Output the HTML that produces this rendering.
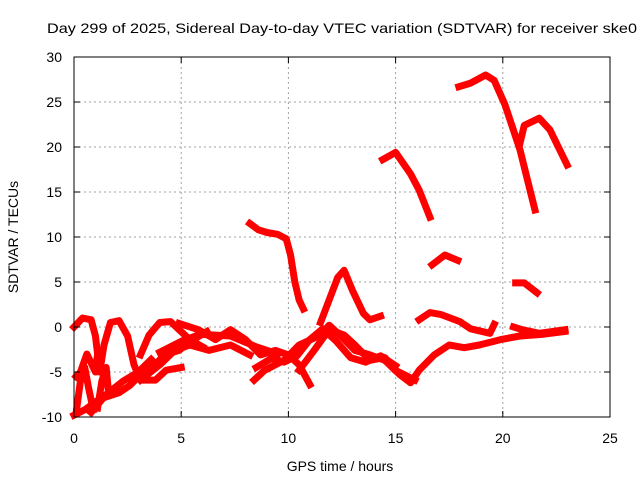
<!DOCTYPE html>
<html><head><meta charset="utf-8"><style>
body{margin:0;background:#fff}
svg{display:block;font-family:"Liberation Sans",Arial,sans-serif}
</style></head><body>
<svg id="chart" width="640" height="480" viewBox="0 0 640 480">
<rect width="640" height="480" fill="#fff"/>
<text x="47" y="33" font-size="14" textLength="590" lengthAdjust="spacingAndGlyphs">Day 299 of 2025, Sidereal Day-to-day VTEC variation (SDTVAR) for receiver ske0</text>
<g id="grid"></g>
<g id="series"></g>
<rect x="74" y="57" width="536" height="360" fill="none" stroke="#000" stroke-width="1"/>
<g id="ticks"></g>
<text x="340" y="471" font-size="14" text-anchor="middle">GPS time / hours</text>
<text transform="translate(18,237) rotate(-90)" font-size="14" text-anchor="middle">SDTVAR / TECUs</text>
</svg>
<script>
const xTicks=[0,5,10,15,20,25];
const yTicks=[-10,-5,0,5,10,15,20,25,30];
const track1=[[8.2,11.5],[8.6,10.8],[9,10.5],[9.5,10.3],[9.9,9.8],[10.1,8],[10.3,5],[10.5,3],[10.7,2]];
const track2=[[11.5,0.5],[11.9,3],[12.3,5.5],[12.6,6.3],[13,4],[13.5,1.5],[13.8,0.8],[14.3,1.2]];
const track3=[[14.4,18.6],[15,19.4],[15.7,17],[16.1,15.2],[16.6,12.2]];
const track4=[[16.7,6.9],[17.3,8],[17.9,7.4]];
const track5=[[17.95,26.7],[18.5,27.1],[19.2,28],[19.6,27.4],[20.1,24.7],[20.8,19.7],[21.5,13]];
const track6=[[20.8,20.4],[21,22.4],[21.7,23.2],[22.2,21.9],[23,18]];
const track7=[[20.6,4.9],[21,4.9],[21.6,3.8]];
const track8=[[16.1,0.8],[16.6,1.6],[17.1,1.4],[18,0.6],[18.5,-0.2],[19.4,-0.7],[19.6,0.3]];
const track9=[[20.5,0],[20.9,-0.3],[21.7,-0.7],[22.9,-0.3]];
const track10=[[0,-9.8],[0.5,-9.2],[1.2,-8],[2.1,-7.3],[2.6,-6.5],[3.3,-4.8],[3.8,-4.2],[4.2,-3.1],[4.9,-2.6],[5.5,-1.5],[6.2,-0.5]];
const track11=[[0,0],[0.4,1],[0.8,0.8],[1,-1],[1.1,-3],[1.0,-5],[0.6,-3],[0.3,-5],[0.1,-5.5]];
const track12=[[1.2,-5],[1.4,-2],[1.7,0.5],[2.1,0.7],[2.5,-1],[2.8,-4.2],[3.1,-5.9],[3.8,-5.9],[4.3,-4.8],[5,-4.5]];
const track13=[[3.1,-3.1],[3.5,-0.9],[4,0.5],[4.5,0.6],[4.9,-0.3],[5.4,-1.4],[6,-2.2]];
const track14=[[4.9,0.4],[5.8,-0.3],[6.6,-1.4],[7.3,-0.3],[8,-1.4],[8.7,-3.1],[9.4,-2.6],[10,-3.1],[10.5,-4.2],[11,-6.4]];
const track15=[[8.4,-5.9],[8.9,-4.8],[9.8,-3.7],[10.5,-2],[11.5,-0.9],[11.9,0.2],[12.4,-0.9],[13.1,-2.6],[13.8,-3.1],[14.5,-3.7],[15.2,-5.3],[15.7,-6.2],[16.1,-4.8],[16.8,-3.1],[17.5,-2],[18.2,-2.3],[18.9,-2],[19.9,-1.4],[20.8,-1],[21.9,-0.8],[22.9,-0.5]];
const track16=[[10.5,-4.8],[11.2,-2.6],[11.9,-0.3],[12.6,-0.9],[13.1,-2],[13.8,-3.7],[14.5,-3.4],[14.97,-4.8],[15.4,-5.3],[15.9,-5.9]];
const track17=[[3.1,-5.9],[4,-4.2],[4.7,-2.6],[5.4,-2],[6.3,-2.6],[7.3,-2],[8.2,-3.1]];
const track18=[[4,-2.8],[5,-1.6],[5.9,-0.8],[7.3,-1],[8.5,-2.2],[9.5,-3]];
const track19=[[0.8,-9.5],[1.5,-7.5],[2.3,-6],[3,-5],[3.6,-3.6]];
const track20=[[8.5,-4.5],[9.2,-3.5],[9.8,-3.9],[10.4,-3.2],[11,-1.4],[11.6,-0.2],[12.2,-1.5],[12.9,-3.4],[13.6,-3.9],[14.3,-3.2],[15,-4.3]];
const track21=[[0.1,-9.5],[0.3,-6],[0.5,-4.5],[0.7,-7],[0.9,-9.2]];
const track22=[[1.1,-9],[1.3,-6],[1.5,-4.5],[1.6,-7]];
const tracks=[track1,track2,track3,track4,track5,track6,track7,track8,track9,track10,track11,track12,track13,track14,track15,track16,track17,track18,track19,track20,track21,track22];
const NS='http://www.w3.org/2000/svg';
const X0=74,X1=610,Y0=417,Y1=57;
function px(h){return X0+(h-0)/(25-0)*(X1-X0);}
function py(v){return Y0-(v-(-10))/(30-(-10))*(Y0-Y1);}
const grid=document.getElementById('grid'),ticks=document.getElementById('ticks'),ser=document.getElementById('series');
xTicks.forEach(t=>{
 const x=px(t);
 if(t>0&&t<25){const l=document.createElementNS(NS,'line');
 
 
 l.setAttribute('x1',x);l.setAttribute('x2',x);l.setAttribute('y1',Y1);l.setAttribute('y2',Y0);
 l.setAttribute('stroke','#a0a0a0');l.setAttribute('stroke-dasharray','2,3');grid.appendChild(l);}
 const tk=document.createElementNS(NS,'path');
 
 
 tk.setAttribute('d',`M${x},${Y0}v-6M${x},${Y1}v6`);tk.setAttribute('stroke','#000');ticks.appendChild(tk);
 const tx=document.createElementNS(NS,'text');
 
 
 tx.setAttribute('x',x);tx.setAttribute('y',443);tx.setAttribute('font-size','14');tx.setAttribute('text-anchor','middle');tx.textContent=t;ticks.appendChild(tx);
});
yTicks.forEach(t=>{
 const y=py(t);
 if(t>-10&&t<30){const l=document.createElementNS(NS,'line');
 
 
 l.setAttribute('x1',X0);l.setAttribute('x2',X1);l.setAttribute('y1',y);l.setAttribute('y2',y);
 l.setAttribute('stroke','#a0a0a0');l.setAttribute('stroke-dasharray','2,3');grid.appendChild(l);}
 const tk=document.createElementNS(NS,'path');
 
 
 tk.setAttribute('d',`M${X0},${y}h6M${X1},${y}h-6`);tk.setAttribute('stroke','#000');ticks.appendChild(tk);
 const tx=document.createElementNS(NS,'text');
 
 
 tx.setAttribute('x',62);tx.setAttribute('y',y+5);tx.setAttribute('font-size','14');tx.setAttribute('text-anchor','end');tx.textContent=t;ticks.appendChild(tx);
});
tracks.forEach((tr,i)=>{
 const p=document.createElementNS(NS,'polyline');
 
 
 p.setAttribute('points',tr.map(d=>px(d[0])+','+py(d[1])).join(' '));
 p.setAttribute('fill','none');p.setAttribute('stroke','#ff0000');p.setAttribute('stroke-width','7');
 p.setAttribute('stroke-linejoin','round');p.setAttribute('stroke-linecap','square');
 ser.appendChild(p);
});
</script>
</body></html>
